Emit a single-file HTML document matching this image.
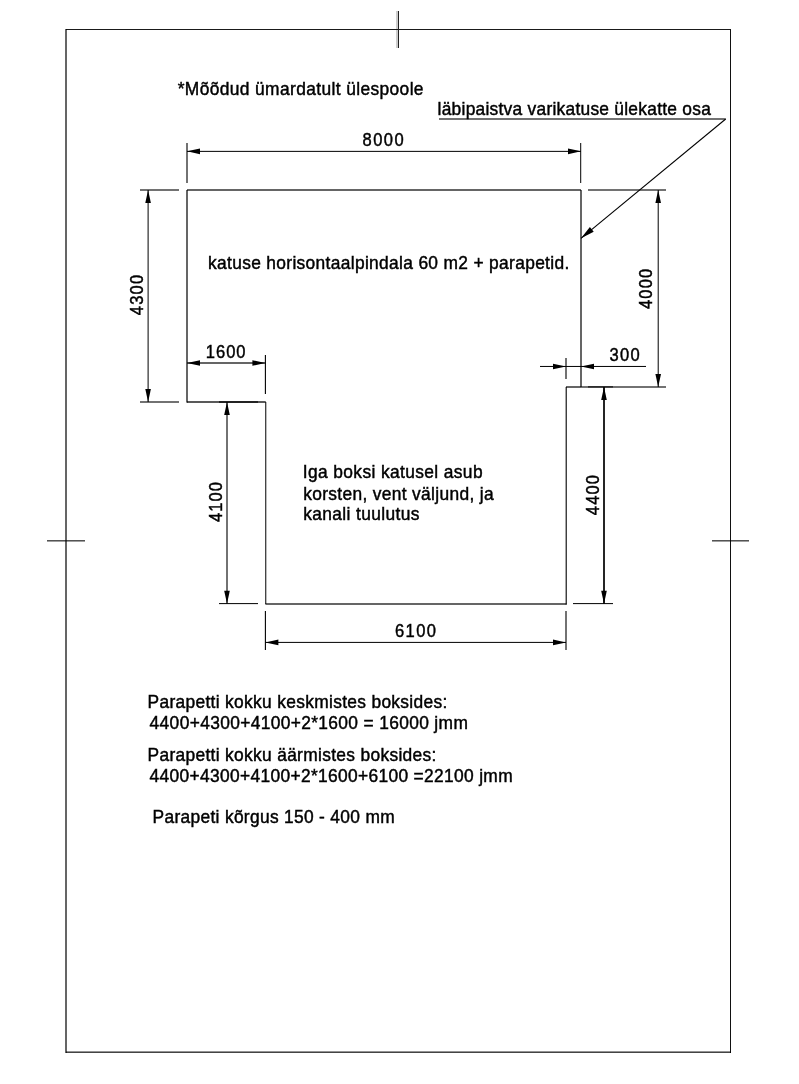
<!DOCTYPE html>
<html><head><meta charset="utf-8"><style>
html,body{margin:0;padding:0;background:#fff;width:799px;height:1084px;overflow:hidden}
svg{display:block;will-change:transform}
text{font-family:"Liberation Sans",sans-serif;fill:#000;stroke:#000;stroke-width:0.45px}
</style></head><body>
<svg width="799" height="1084" viewBox="0 0 799 1084">
<rect width="799" height="1084" fill="#fff"/>
<rect x="396.00" y="11.00" width="2.00" height="37.00" fill="#ccc"/>
<rect x="66.00" y="29.00" width="665.00" height="1.00" fill="#1a1a1a"/>
<rect x="398.00" y="11.00" width="1.00" height="37.00" fill="#222"/>
<rect x="65.40" y="29.00" width="1.20" height="1024.00" fill="#000"/>
<rect x="730.00" y="29.00" width="1.00" height="1024.00" fill="#111"/>
<rect x="66.00" y="1051.58" width="665.00" height="1.15" fill="#000"/>
<rect x="47.00" y="540.33" width="38.00" height="1.05" fill="#000"/>
<rect x="712.00" y="540.33" width="37.00" height="1.05" fill="#000"/>
<rect x="187.00" y="189.40" width="394.00" height="1.20" fill="#000"/>
<rect x="186.40" y="190.00" width="1.20" height="212.60" fill="#000"/>
<rect x="187.00" y="401.35" width="78.77" height="1.30" fill="#000"/>
<rect x="265.27" y="402.00" width="1.00" height="202.00" fill="#000"/>
<rect x="265.40" y="603.40" width="301.10" height="1.20" fill="#000"/>
<rect x="565.65" y="387.00" width="1.10" height="217.60" fill="#000"/>
<rect x="566.00" y="386.40" width="15.00" height="1.20" fill="#000"/>
<rect x="580.20" y="143.00" width="1.00" height="40.00" fill="#000"/>
<rect x="580.40" y="190.00" width="1.20" height="197.00" fill="#000"/>
<rect x="186.45" y="143.00" width="1.10" height="40.00" fill="#000"/>
<rect x="187.00" y="150.87" width="394.00" height="1.00" fill="#000"/>
<polygon points="187.00,151.37 200.00,148.57 200.00,154.17" fill="#000"/>
<polygon points="581.00,151.37 568.00,154.17 568.00,148.57" fill="#000"/>
<rect x="140.00" y="189.45" width="39.00" height="1.10" fill="#000"/>
<rect x="140.00" y="401.45" width="39.00" height="1.10" fill="#000"/>
<rect x="147.60" y="190.00" width="1.00" height="212.00" fill="#000"/>
<polygon points="148.10,190.00 150.90,203.00 145.30,203.00" fill="#000"/>
<polygon points="148.10,402.00 145.30,389.00 150.90,389.00" fill="#000"/>
<rect x="588.00" y="189.45" width="78.00" height="1.10" fill="#000"/>
<rect x="581.00" y="386.45" width="85.00" height="1.10" fill="#000"/>
<rect x="588.00" y="386.40" width="25.00" height="1.00" fill="#000"/>
<rect x="657.70" y="190.00" width="1.00" height="197.00" fill="#000"/>
<polygon points="658.20,190.00 661.00,203.00 655.40,203.00" fill="#000"/>
<polygon points="658.20,387.00 655.40,374.00 661.00,374.00" fill="#000"/>
<rect x="264.85" y="355.00" width="1.10" height="39.00" fill="#000"/>
<rect x="187.00" y="362.40" width="78.40" height="1.20" fill="#000"/>
<polygon points="187.00,363.00 200.00,360.20 200.00,365.80" fill="#000"/>
<polygon points="265.40,363.00 252.40,365.80 252.40,360.20" fill="#000"/>
<rect x="565.45" y="358.00" width="1.10" height="21.00" fill="#000"/>
<rect x="540.00" y="365.95" width="106.00" height="1.00" fill="#000"/>
<polygon points="566.00,366.45 553.00,369.25 553.00,363.65" fill="#000"/>
<polygon points="581.00,366.45 594.00,363.65 594.00,369.25" fill="#000"/>
<rect x="219.00" y="401.40" width="39.00" height="1.20" fill="#000"/>
<rect x="219.00" y="603.10" width="39.00" height="1.00" fill="#000"/>
<rect x="226.45" y="402.00" width="1.10" height="201.80" fill="#000"/>
<polygon points="227.00,402.00 229.80,415.00 224.20,415.00" fill="#000"/>
<polygon points="227.00,603.80 224.20,590.80 229.80,590.80" fill="#000"/>
<rect x="573.00" y="603.10" width="40.00" height="1.00" fill="#000"/>
<rect x="603.15" y="387.00" width="1.70" height="216.80" fill="#000"/>
<polygon points="604.00,387.00 606.80,400.00 601.20,400.00" fill="#000"/>
<polygon points="604.00,603.80 601.20,590.80 606.80,590.80" fill="#000"/>
<rect x="264.85" y="611.00" width="1.10" height="39.00" fill="#000"/>
<rect x="565.45" y="611.00" width="1.10" height="39.00" fill="#000"/>
<rect x="265.40" y="641.90" width="300.60" height="1.00" fill="#000"/>
<polygon points="265.40,642.40 278.40,639.60 278.40,645.20" fill="#000"/>
<polygon points="566.00,642.40 553.00,645.20 553.00,639.60" fill="#000"/>
<rect x="439.00" y="118.45" width="286.70" height="1.10" fill="#000"/>
<line x1="725.7" y1="119.0" x2="581" y2="238.3" stroke="#000" stroke-width="1.1"/>
<polygon points="581.00,238.30 589.89,227.08 593.71,231.71" fill="#000"/>
<text transform="translate(177.70,94.75) scale(0.965,1)" font-size="18.0" letter-spacing="0.400">*Mõõdud ümardatult ülespoole</text>
<text transform="translate(437.58,114.75) scale(0.965,1)" font-size="18.0" letter-spacing="0.271">läbipaistva varikatuse ülekatte osa</text>
<text transform="translate(362.50,146.00) scale(0.92,1)" font-size="18.0" letter-spacing="1.565">8000</text>
<text transform="translate(208.03,268.60) scale(0.965,1)" font-size="18.0" letter-spacing="0.347">katuse horisontaalpindala 60 m2 + parapetid.</text>
<text transform="translate(205.76,357.80) scale(0.92,1)" font-size="18.0" letter-spacing="1.072">1600</text>
<text transform="translate(609.58,360.70) scale(0.92,1)" font-size="18.0" letter-spacing="1.374">300</text>
<text transform="translate(302.79,477.70) scale(0.965,1)" font-size="18.0" letter-spacing="0.396">Iga boksi katusel asub</text>
<text transform="translate(303.23,499.70) scale(0.965,1)" font-size="18.0" letter-spacing="0.345">korsten, vent väljund, ja</text>
<text transform="translate(303.23,519.80) scale(0.965,1)" font-size="18.0" letter-spacing="0.388">kanali tuulutus</text>
<text transform="translate(394.97,636.80) scale(0.92,1)" font-size="18.0" letter-spacing="1.502">6100</text>
<text transform="translate(147.57,707.80) scale(0.965,1)" font-size="18.0" letter-spacing="0.336">Parapetti kokku keskmistes boksides:</text>
<text transform="translate(149.61,729.00) scale(0.965,1)" font-size="18.0" letter-spacing="0.368">4400+4300+4100+2*1600 = 16000 jmm</text>
<text transform="translate(147.57,760.80) scale(0.965,1)" font-size="18.0" letter-spacing="0.334">Parapetti kokku äärmistes boksides:</text>
<text transform="translate(149.61,781.80) scale(0.965,1)" font-size="18.0" letter-spacing="0.352">4400+4300+4100+2*1600+6100 =22100 jmm</text>
<text transform="translate(152.57,823.00) scale(0.965,1)" font-size="18.0" letter-spacing="0.331">Parapeti kõrgus 150 - 400 mm</text>
<text transform="translate(142.90,315.27) rotate(-90) scale(0.92,1)" font-size="18.0" letter-spacing="1.300">4300</text>
<text transform="translate(651.60,309.07) rotate(-90) scale(0.92,1)" font-size="18.0" letter-spacing="1.264">4000</text>
<text transform="translate(221.60,522.07) rotate(-90) scale(0.92,1)" font-size="18.0" letter-spacing="1.192">4100</text>
<text transform="translate(598.60,515.17) rotate(-90) scale(0.92,1)" font-size="18.0" letter-spacing="1.192">4400</text>
</svg>
</body></html>
